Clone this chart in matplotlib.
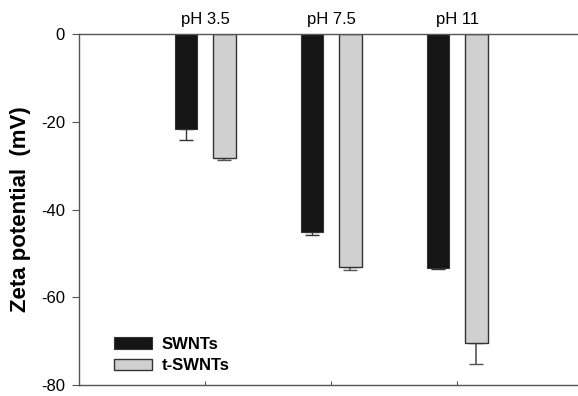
import matplotlib
matplotlib.use("Agg")
import matplotlib.pyplot as plt
import numpy as np

plt.rcParams['font.family'] = ['Liberation Sans', 'DejaVu Sans']

groups = ["pH 3.5", "pH 7.5", "pH 11"]
swnts = [-21.6, -45.2, -53.3]
swnts_err = [2.6, 0.7, 0.3]
tswnts = [-28.2, -53.1, -70.4]
tswnts_err = [0.5, 0.8, 4.8]

fig = plt.figure(figsize=(5.78, 3.96), dpi=100)
ax = fig.add_axes([79 / 578, 1 - 385 / 396, 498 / 578, 351 / 396])

x = np.arange(1, len(groups) + 1)
w = 0.18
ax.bar(x - 0.152, swnts, w, color="#151515", edgecolor="#333333", lw=0.8,
       label="SWNTs", zorder=2)
ax.bar(x + 0.152, tswnts, w, color="#d0d0d0", edgecolor="#333333", lw=1.0,
       label="t-SWNTs", zorder=2)
ax.errorbar(x - 0.152, swnts, yerr=[swnts_err, [0] * 3], fmt="none",
            ecolor="#333333", elinewidth=1.0, capsize=5, capthick=1.0, zorder=1)
ax.errorbar(x + 0.152, tswnts, yerr=[tswnts_err, [0] * 3], fmt="none",
            ecolor="#555555", elinewidth=1.2, capsize=5, capthick=1.0, zorder=1)

for xi, g in zip(x, groups):
    ax.text(xi, 1.6, g, ha="center", va="bottom", fontsize=12, clip_on=False)

ax.set_xlim(0, 3.95)
ax.set_ylim(-80, 0)
ax.set_yticks([0, -20, -40, -60, -80])
ax.set_yticklabels(["0", "-20", "-40", "-60", "-80"])
ax.set_xticks(x)
ax.set_xticklabels([])
ax.tick_params(axis="x", direction="in", length=3, color="#555555")
ax.tick_params(axis="y", direction="out", length=5, color="#555555",
               labelsize=12, pad=5)
ax.spines["right"].set_visible(False)
for s in ["left", "bottom", "top"]:
    ax.spines[s].set_color("#555555")
    ax.spines[s].set_linewidth(1.0)

ax.set_ylabel("Zeta potential  (mV)", fontsize=16, fontweight="bold", labelpad=7)

leg = ax.legend(loc="lower left", bbox_to_anchor=(0.046, 0.0), frameon=False,
                prop={"weight": "bold", "size": 12}, handlelength=2.3,
                handleheight=0.7, handletextpad=0.6, labelspacing=0.4,
                borderpad=0.2)

fig.savefig("out.png", dpi=100)
